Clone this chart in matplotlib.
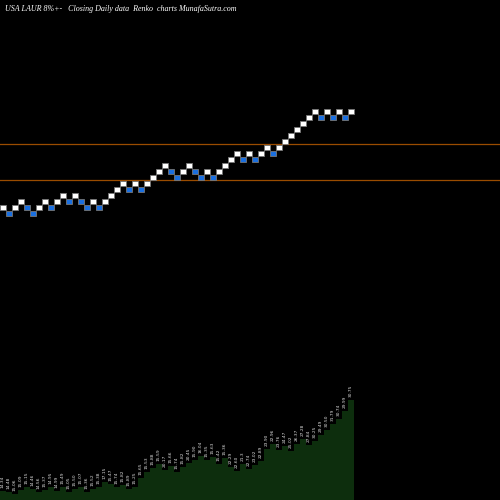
import matplotlib.pyplot as plt
from matplotlib.patches import Rectangle

# renko box levels (box units) and direction
levels = [1, 0, 1, 2, 1, 0, 1, 2, 1, 2, 3, 2, 3, 2, 1, 2, 1, 2, 3, 4, 5, 4, 5, 4, 5, 6, 7, 8, 7, 6,
          7, 8, 7, 6, 7, 6, 7, 8, 9, 10, 9, 10, 9, 10, 11, 10, 11, 12, 13, 14, 15, 16, 17, 16, 17, 16, 17, 16, 17]
up = [1, 0, 1, 1, 0, 0, 1, 1, 0, 1, 1, 0, 1, 0, 0, 1, 0, 1, 1, 1, 1, 0, 1, 0, 1, 1, 1, 1, 0, 0,
      1, 1, 0, 0, 1, 0, 1, 1, 1, 1, 0, 1, 0, 1, 1, 0, 1, 1, 1, 1, 1, 1, 1, 0, 1, 0, 1, 0, 1]
resist = [5.5, 11.5]

# bottom area heights and labels
vol = [9, 8, 6, 10, 13, 11, 8, 10, 13, 9, 13, 8, 11, 13, 8, 11, 13, 18, 16, 13, 15, 11, 13, 22, 28,
       32, 36, 30, 34, 28, 33, 37, 40, 44, 40, 43, 36, 42, 33, 29, 36, 31, 35, 39, 51, 56, 50, 54, 49,
       56, 61, 55, 59, 65, 70, 76, 81, 89, 100]
vlabels = ["14.34", "14.48", "15.06", "15.09", "15.15", "14.46", "14.56", "15.37", "14.95", "14.99",
           "15.49", "15.05", "15.50", "15.07", "15.36", "15.52", "15.38", "17.15", "15.47", "15.74",
           "15.82", "15.89", "15.25", "15.65", "15.53", "15.88", "15.59", "20.17", "15.66", "15.74",
           "15.82", "20.45", "15.90", "16.04", "15.35", "15.63", "15.42", "15.36", "22.29", "22.60",
           "21.3", "22.74", "23.02", "22.89", "23.90", "22.96", "23.76", "24.47", "25.02", "26.37",
           "27.28", "27.84", "30.25", "29.49", "30.50", "31.79", "30.74", "29.99", "30.75"]

fig = plt.figure(figsize=(5, 5), dpi=100, facecolor="black")

# renko panel (full figure, mapped so 1 box = 6 px)
ax = fig.add_axes([0, 0, 1, 1])
ax.set_facecolor("black")
ax.set_xlim(-0.5, 82.83)
ax.set_ylim(-47.8, 35.55)
ax.axis("off")
for r in resist:
    ax.axhline(r, color="#9a4c00", lw=0.9)
for i, (lv, u) in enumerate(zip(levels, up)):
    ax.add_patch(Rectangle((i - 0.5, lv - 0.5), 0.95, 0.95,
                           facecolor="white" if u else "#1a6fe0",
                           edgecolor="#777777", lw=0.6, zorder=3))

# bottom area panel
ax2 = fig.add_axes([0, 0, 1, 0.26])
ax2.patch.set_alpha(0)
ax2.set_xlim(-0.5, 82.83)
ax2.set_ylim(0, 130)
ax2.axis("off")
xs = list(range(len(vol)))
ax2.bar(xs, vol, width=1.0, color="#0d2e0d", linewidth=0)
for x, v, s in zip(xs, vol, vlabels):
    ax2.text(x, v + 3, s, rotation=90, fontsize=3.2, color="#dddddd",
             ha="center", va="bottom")

fig.text(0.01, 0.99, "USA LAUR 8%+-   Closing Daily data  Renko  charts MunafaSutra.com",
         color="white", fontsize=5.8, family="Liberation Serif", style="italic",
         ha="left", va="top")

fig.savefig("out.png", dpi=100, facecolor="black")
